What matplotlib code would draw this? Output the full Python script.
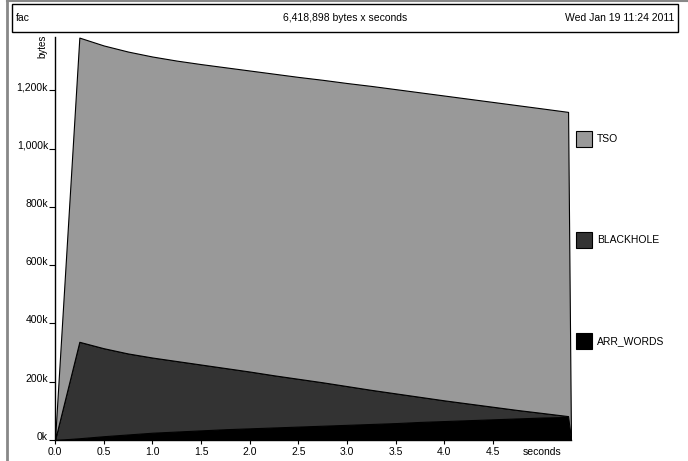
import numpy as np
import matplotlib
matplotlib.use('Agg')
import matplotlib.pyplot as plt
from matplotlib.patches import Rectangle
from matplotlib.ticker import FuncFormatter

plt.rcParams['font.family'] = ['Liberation Sans', 'DejaVu Sans']

# sample times (seconds) and per-band sizes (kbytes)
times = [0.0, 0.25, 0.5, 0.75, 1.0, 1.25, 1.5, 1.75, 2.0, 2.25, 2.5, 2.75, 3.0,
         3.25, 3.5, 3.75, 4.0, 4.25, 4.5, 4.75, 5.0, 5.27, 5.30]
arr_words = [0, 6, 13, 19, 25, 29, 33, 37, 40, 43, 46, 49, 52,
             55, 58, 62, 65, 68, 71, 74, 77, 79, 0]
blackhole = [0, 331, 302, 278, 258, 242, 226, 210, 195, 179, 164, 149, 133,
             117, 102, 86, 71, 57, 43, 29, 16, 3, 0]
tso = [0, 1044, 1039, 1036, 1033, 1031, 1031, 1032, 1033, 1035, 1036, 1038, 1040,
       1043, 1044, 1045, 1046, 1046, 1046, 1046, 1045, 1044, 0]

bands = ['ARR_WORDS', 'BLACKHOLE', 'TSO']
colors = ['#000000', '#333333', '#999999']
xticks = [0.0, 0.5, 1.0, 1.5, 2.0, 2.5, 3.0, 3.5, 4.0, 4.5]
yticks = [0, 200, 400, 600, 800, 1000, 1200]

W, H = 688, 461
fig = plt.figure(figsize=(W/100, H/100), dpi=100)

# main plot area (pixel layout)
L, R, T, B = 55, 571, 37, 440
ax = fig.add_axes([L/W, 1-B/H, (R-L)/W, (B-T)/H])

t = np.array(times)
series = [np.array(arr_words), np.array(blackhole), np.array(tso)]
base = np.zeros_like(t, dtype=float)
for vals, c in zip(series, colors):
    top = base + vals
    ax.fill_between(t, base, top, facecolor=c, edgecolor='black', linewidth=0.8)
    base = top

ax.set_xlim(0, 5.30)
ax.set_ylim(0, 1383)
for s in ['top', 'right']:
    ax.spines[s].set_visible(False)
for s in ['left', 'bottom']:
    ax.spines[s].set_linewidth(1.0)

ax.set_xticks(xticks)
ax.set_xticklabels(['%.1f' % v for v in xticks])
ax.set_yticks(yticks)
ax.yaxis.set_major_formatter(FuncFormatter(lambda v, p: '{:,}k'.format(int(v))))
ax.tick_params(axis='x', direction='out', length=3, width=0.8, pad=2, labelsize=7.5)
ax.tick_params(axis='y', direction='out', length=4.5, width=0.8, pad=0.5, labelsize=7.5)
for lab in ax.get_yticklabels():
    lab.set_va('baseline')

# overlay in pixel coordinates for frame, title box, labels and key
ov = fig.add_axes([0, 0, 1, 1], zorder=-1)
ov.set_xlim(0, W)
ov.set_ylim(H, 0)
ov.axis('off')
ov.plot([7, 7], [1, H], color='#888888', linewidth=2)
ov.plot([7, W], [1, 1], color='#888888', linewidth=1.5)
ov.add_patch(Rectangle((12, 4), 666, 28, facecolor='white', edgecolor='black', linewidth=1))
ov.text(16, 18, 'fac', fontsize=7.5, va='center', ha='left')
ov.text(345, 18, '6,418,898 bytes x seconds', fontsize=7.5, va='center', ha='center')
ov.text(674, 18, 'Wed Jan 19 11:24 2011', fontsize=7.5, va='center', ha='right')

ov2 = fig.add_axes([0, 0, 1, 1])
ov2.set_xlim(0, W)
ov2.set_ylim(H, 0)
ov2.axis('off')
ov2.text(42, 46, 'bytes', fontsize=7, rotation=90, va='center', ha='center')
ov2.text(542, 452, 'seconds', fontsize=7.5, va='center', ha='center')

key_y = [139, 240, 341]
for name, c, ky in zip(bands[::-1], colors[::-1], key_y):
    ov2.add_patch(Rectangle((576, ky-8), 16, 16, facecolor=c, edgecolor='black', linewidth=0.8))
    ov2.text(597, ky, name, fontsize=7.5, va='center', ha='left')

fig.savefig('out.png', dpi=100)
